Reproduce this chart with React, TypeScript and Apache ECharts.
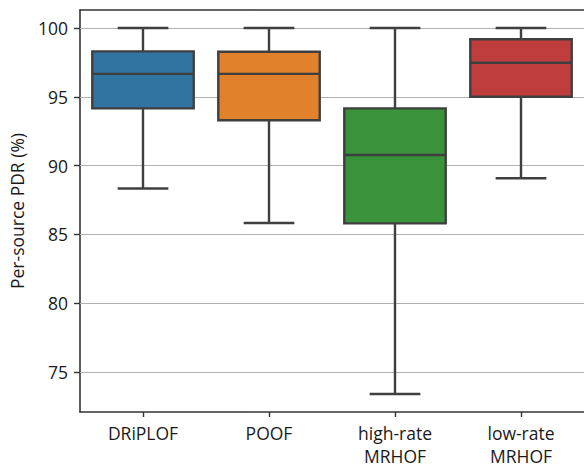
import React, { useEffect, useRef } from "react";
import * as echarts from "echarts";

const categories = ["DRiPLOF", "POOF", "high-rate\nMRHOF", "low-rate\nMRHOF"];
const mins = [88.33, 85.83, 73.4, 89.08];
const q1s = [94.16, 93.3, 85.8, 95.0];
const medians = [96.67, 96.67, 90.77, 97.48];
const q3s = [98.3, 98.28, 94.16, 99.18];
const maxs = [100, 100, 100, 100];
const colors = ["#3274a1", "#e1812c", "#3a923a", "#c03d3e"];
const yTicks = [75, 80, 85, 90, 95, 100];

const FONT = "Open Sans";
const EDGE = "#3f3f3f";

export default function App() {
  const ref = useRef<HTMLDivElement>(null);
  useEffect(() => {
    if (!ref.current) return;
    const chart = echarts.init(ref.current, undefined, { renderer: "svg" });
    const data = categories.map((_, i) => [i, mins[i], q1s[i], medians[i], q3s[i], maxs[i]]);
    chart.setOption({
      animation: false,
      grid: {
        left: 80,
        right: -3,
        top: 10,
        bottom: 56,
        show: false,
      },
      xAxis: [
        {
          type: "category",
          data: categories,
          axisLine: { show: true, lineStyle: { color: "#333", width: 1.6 } },
          axisTick: { show: true, alignWithLabel: true, length: 5, lineStyle: { color: "#333", width: 1.4 } },
          axisLabel: { fontFamily: FONT, fontSize: 17.5, color: "#1a1a1a", margin: 9, lineHeight: 23 },
          splitLine: { show: false },
        },
        {
          type: "category",
          position: "top",
          data: categories,
          axisLine: { show: true, lineStyle: { color: "#333", width: 1.6 } },
          axisTick: { show: false },
          axisLabel: { show: false },
          splitLine: { show: false },
        },
      ],
      yAxis: {
        type: "value",
        min: 72.09,
        max: 101.31,
        name: "Per-source PDR (%)",
        nameLocation: "middle",
        nameGap: 54,
        nameTextStyle: { fontFamily: FONT, fontSize: 17.5, color: "#1a1a1a" },
        axisLine: { show: true, lineStyle: { color: "#333", width: 1.6 } },
        axisTick: { show: true, length: 6, customValues: yTicks, lineStyle: { color: "#333", width: 1.4 } },
        axisLabel: { fontFamily: FONT, fontSize: 17.5, color: "#1a1a1a", margin: 12, customValues: yTicks },
        splitLine: { show: false },
      },
      series: [
        {
          type: "line",
          data: [],
          markLine: {
            silent: true,
            symbol: "none",
            label: { show: false },
            lineStyle: { color: "#b0b0b0", width: 1.2, type: "solid" },
            data: yTicks.map((v) => ({ yAxis: v })),
          },
          z: 0,
        },
        {
          type: "custom",
          data,
          encode: { x: 0, y: [1, 2, 3, 4, 5] },
          z: 5,
          renderItem: (params: any, api: any) => {
            const x = api.value(0);
            const lo = api.coord([x, api.value(1)]);
            const q1 = api.coord([x, api.value(2)]);
            const med = api.coord([x, api.value(3)]);
            const q3 = api.coord([x, api.value(4)]);
            const hi = api.coord([x, api.value(5)]);
            const band = api.size([1, 0])[0];
            const bw = band * 0.805;
            const cw = bw / 2;
            const cx = lo[0];
            const ls = { stroke: EDGE, lineWidth: 2.4 };
            return {
              type: "group",
              children: [
                { type: "line", shape: { x1: cx, y1: q1[1], x2: cx, y2: lo[1] }, style: ls },
                { type: "line", shape: { x1: cx, y1: q3[1], x2: cx, y2: hi[1] }, style: ls },
                { type: "line", shape: { x1: cx - cw / 2, y1: lo[1], x2: cx + cw / 2, y2: lo[1] }, style: ls },
                { type: "line", shape: { x1: cx - cw / 2, y1: hi[1], x2: cx + cw / 2, y2: hi[1] }, style: ls },
                {
                  type: "rect",
                  shape: { x: cx - bw / 2, y: q3[1], width: bw, height: q1[1] - q3[1] },
                  style: { fill: colors[params.dataIndex], stroke: EDGE, lineWidth: 2.4 },
                },
                { type: "line", shape: { x1: cx - bw / 2, y1: med[1], x2: cx + bw / 2, y2: med[1] }, style: ls },
              ],
            };
          },
        },
      ],
    });
    return () => chart.dispose();
  }, []);
  return <div ref={ref} style={{ width: 584, height: 468, position: "absolute", left: 0, top: 0 }} />;
}
